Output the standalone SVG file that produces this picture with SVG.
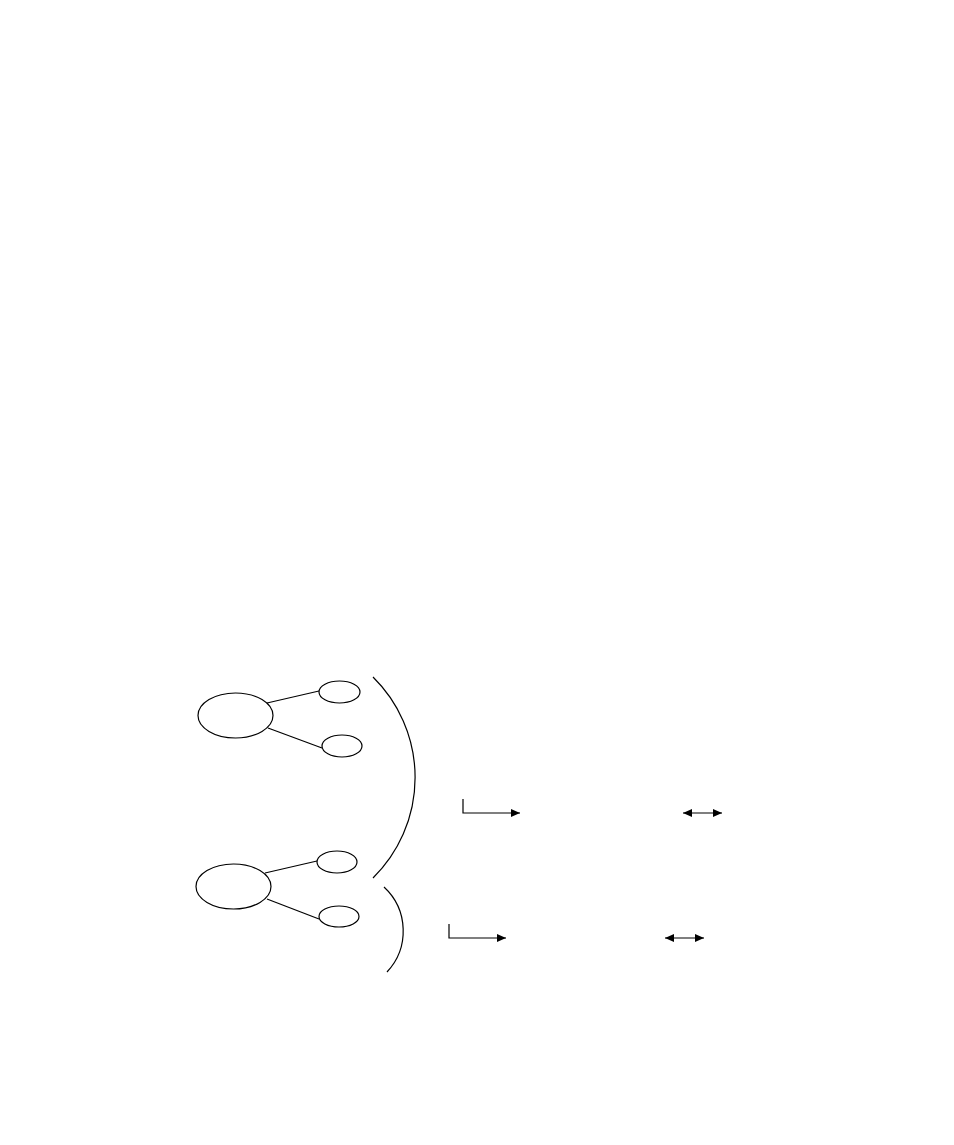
<svg xmlns="http://www.w3.org/2000/svg" width="954" height="1145" viewBox="0 0 954 1145">
<style>
.n{fill:none;stroke:#000;stroke-width:1.2}
.c{fill:none;stroke:#000;stroke-width:1.2}
</style>
<defs>
<marker id="ah" markerWidth="10" markerHeight="8" refX="9" refY="4" orient="auto" markerUnits="userSpaceOnUse">
<path d="M0,0 L9,4 L0,8 Z" fill="#000"/>
</marker>
<marker id="as" markerWidth="10" markerHeight="8" refX="9" refY="4" orient="auto-start-reverse" markerUnits="userSpaceOnUse">
<path d="M0,0 L9,4 L0,8 Z" fill="#000"/>
</marker>
</defs>
<rect width="954" height="1145" fill="#fff"/>
<g id="connectors">
<line class="c" x1="267" y1="703" x2="319" y2="691"/>
<line class="c" x1="268" y1="728" x2="322" y2="748"/>
<line class="c" x1="265" y1="873" x2="317" y2="861"/>
<line class="c" x1="267" y1="899" x2="319" y2="919"/>
<path class="c" d="M373,677 A141,141 0 0 1 373,878"/>
<path class="c" d="M384,887 A60,60 0 0 1 387,972"/>
<path class="c" d="M463,799 L463,813 L520,813" marker-end="url(#ah)"/>
<line class="c" x1="683" y1="813" x2="722" y2="813" marker-start="url(#as)" marker-end="url(#as)"/>
<path class="c" d="M449,924 L449,938 L506,938" marker-end="url(#ah)"/>
<line class="c" x1="665" y1="938" x2="704" y2="938" marker-start="url(#as)" marker-end="url(#as)"/>
</g>
<g id="node1"><ellipse class="n" cx="235.5" cy="715.5" rx="37.5" ry="22.5"/></g>
<g id="node1a"><ellipse class="n" cx="339.5" cy="692" rx="20.5" ry="11"/></g>
<g id="node1b"><ellipse class="n" cx="342" cy="746" rx="20" ry="11"/></g>
<g id="node2"><ellipse class="n" cx="233.5" cy="886.5" rx="37.5" ry="22.5"/></g>
<g id="node2a"><ellipse class="n" cx="337" cy="862" rx="20" ry="11"/></g>
<g id="node2b"><ellipse class="n" cx="339" cy="916.5" rx="20" ry="10.5"/></g>
</svg>
